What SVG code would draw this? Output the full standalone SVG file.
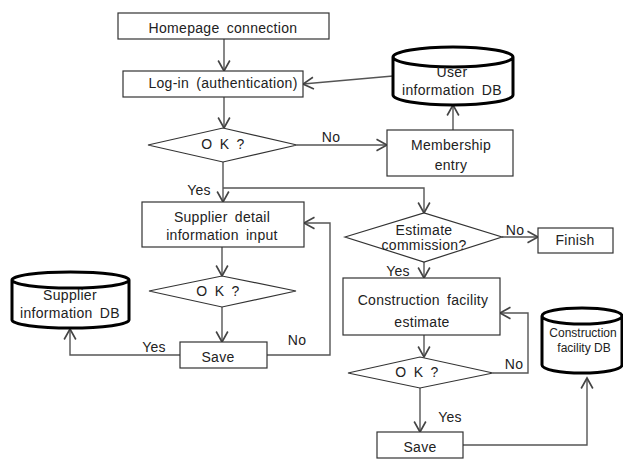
<svg xmlns="http://www.w3.org/2000/svg" width="623" height="459" viewBox="0 0 623 459">
<defs>
<marker id="arr" markerUnits="userSpaceOnUse" markerWidth="14" markerHeight="14" refX="10" refY="6" orient="auto" viewBox="0 0 12 12">
<polyline points="1,1 10,6 1,11" fill="none" stroke="#444" stroke-width="1.4"/>
</marker>
<style>
.box{fill:#fff;stroke:#333;stroke-width:1.2}
.db{fill:#fff;stroke:#000;stroke-width:3}
.c{fill:none;stroke:#555;stroke-width:1.4;marker-end:url(#arr)}
text{font-family:"Liberation Sans",Arial,sans-serif;font-size:14px;fill:#222;text-anchor:middle;letter-spacing:0.3px;word-spacing:3px}
.s{font-size:12px;letter-spacing:0;word-spacing:0}
</style>
</defs>
<rect width="623" height="459" fill="#fff"/>
<g id="connectors">
<line class="c" x1="224" y1="39" x2="224" y2="71"/>
<line class="c" x1="393" y1="76" x2="303" y2="84"/>
<line class="c" x1="224" y1="97" x2="224" y2="128"/>
<line class="c" x1="297" y1="145" x2="387" y2="145"/>
<line class="c" x1="453" y1="130" x2="453" y2="105"/>
<line class="c" x1="223" y1="162" x2="223" y2="202"/>
<polyline class="c" points="223,188 424,188 424,213"/>
<line class="c" x1="222" y1="247" x2="222" y2="276"/>
<line class="c" x1="222" y1="307" x2="222" y2="342"/>
<polyline class="c" points="180,355 70,355 70,329"/>
<polyline class="c" points="267,355 330,355 330,223 304,223"/>
<line class="c" x1="502" y1="237" x2="538" y2="237"/>
<line class="c" x1="424" y1="262" x2="424" y2="278"/>
<line class="c" x1="424" y1="335" x2="424" y2="357"/>
<polyline class="c" points="493,373 528,373 528,313 500,313"/>
<line class="c" x1="420" y1="388" x2="420" y2="432"/>
<polyline class="c" points="463,445 587,445 587,378"/>
<text x="331" y="142">No</text>
<text x="199" y="195">Yes</text>
<text x="154" y="352">Yes</text>
<text x="297" y="345">No</text>
<text x="515" y="235">No</text>
<text x="398" y="276">Yes</text>
<text x="514" y="369">No</text>
<text x="450" y="422">Yes</text>
</g>
<g id="homepage">
<rect class="box" x="118" y="13" width="211" height="26"/>
<text x="223" y="33">Homepage connection</text>
</g>
<g id="login">
<rect class="box" x="123" y="71" width="180" height="26"/>
<text x="223" y="88">Log-in (authentication)</text>
</g>
<g id="userdb">
<path class="db" d="M393,57 A60,10 0 0 1 513,57 V95 A60,10 0 0 1 393,95 Z M393,57 A60,10 0 0 0 513,57"/>
<text x="452" y="77">User</text>
<text x="452" y="95">information DB</text>
</g>
<g id="ok1">
<polygon class="box" points="148,145 223,128 297,145 223,162"/>
<text x="223" y="149">O K ?</text>
</g>
<g id="membership">
<rect class="box" x="387" y="130" width="126" height="46"/>
<text x="451" y="150">Membership</text>
<text x="451" y="170">entry</text>
</g>
<g id="supplier">
<rect class="box" x="142" y="202" width="162" height="45"/>
<text x="222" y="222">Supplier detail</text>
<text x="222" y="240">information input</text>
</g>
<g id="ok2">
<polygon class="box" points="149,291 222,276 296,291 222,307"/>
<text x="218" y="296">O K ?</text>
</g>
<g id="save1">
<rect class="box" x="180" y="342" width="87" height="26"/>
<text x="218" y="362">Save</text>
</g>
<g id="supplierdb">
<path class="db" d="M12,280 A58.5,8 0 0 1 129,280 V320 A58.5,8 0 0 1 12,320 Z M12,280 A58.5,8 0 0 0 129,280"/>
<text x="70" y="300">Supplier</text>
<text x="70" y="318">information DB</text>
</g>
<g id="estimate">
<polygon class="box" points="345,237 424,213 502,237 424,262"/>
<text x="424" y="235">Estimate</text>
<text x="424" y="250">commission?</text>
</g>
<g id="finish">
<rect class="box" x="538" y="228" width="75" height="25"/>
<text x="575" y="245">Finish</text>
</g>
<g id="construction">
<rect class="box" x="343" y="278" width="157" height="57"/>
<text x="423" y="305">Construction facility</text>
<text x="422" y="327">estimate</text>
</g>
<g id="ok3">
<polygon class="box" points="348,373 420,357 493,373 420,388"/>
<text x="417" y="377">O K ?</text>
</g>
<g id="save2">
<rect class="box" x="377" y="432" width="86" height="26"/>
<text x="420" y="452">Save</text>
</g>
<g id="constructiondb">
<path class="db" d="M542,316 A40,8 0 0 1 622,316 V365 A40,8 0 0 1 542,365 Z M542,316 A40,8 0 0 0 622,316"/>
<text class="s" x="583" y="337">Construction</text>
<text class="s" x="584" y="352">facility DB</text>
</g>
</svg>
